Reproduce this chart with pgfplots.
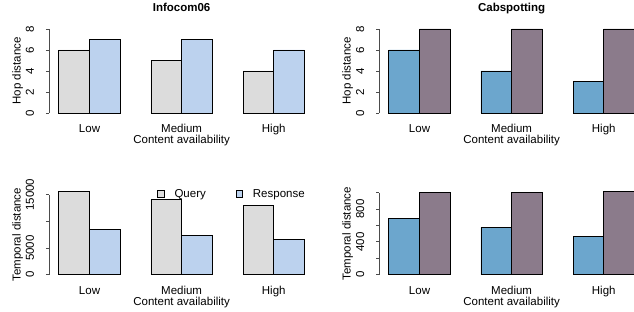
\documentclass[border=0pt]{standalone}
\usepackage{fontspec}
\setmainfont{Liberation Sans}
\usepackage{pgfplots}
\pgfplotsset{compat=1.18}
\definecolor{qcol}{HTML}{DCDCDC}
\definecolor{rcol}{HTML}{BCD2EE}
\definecolor{bcol}{HTML}{6CA6CD}
\definecolor{pcol}{HTML}{8B7B8B}
\newcommand{\fs}{\fontsize{11.5bp}{13.8bp}\selectfont}
\pgfplotsset{
  rpanel/.style={
    scale only axis,
    width=265.25bp,
    xmin=0.68, xmax=9.32,
    ymin=0,
    clip=false,
    axis lines*=left,
    x axis line style={draw=none},
    y axis line style={black!70, line width=0.8bp},
    xtick={2,5,8},
    xticklabels={Low,Medium,High},
    x tick style={draw=none},
    y tick style={black!70, line width=0.8bp},
    tick align=outside,
    major tick length=3bp,
    /pgf/number format/assume math mode=true,
    tick label style={font=\fs},
    yticklabel style={rotate=90, anchor=base},
    yticklabel shift=12bp,
    xticklabel style={anchor=base},
    xticklabel shift=16.5bp,
    xlabel={Content availability},
    xlabel style={font=\fs, at={(axis description cs:0.5,0)}, anchor=base, yshift=-31bp},
    ylabel style={font=\fs, at={(axis description cs:-0.1074,0.5)}, anchor=base},
    title style={font=\fs\bfseries, at={(axis description cs:0.5,1)}, anchor=base, yshift=11.7bp},
    every axis plot/.append style={ybar, bar width=1, draw=black, line width=0.8bp},
  }
}
\begin{document}
\begin{tikzpicture}
% top-left
\begin{axis}[rpanel, at={(49bp,199bp)}, anchor=south west, height=84bp, ymax=8,
  ytick={0,2,4,6,8}, ylabel={Hop distance}, title={Infocom06}]
\addplot[bar shift=-0.5, fill=qcol] coordinates {(2,6) (5,5) (8,4)};
\addplot[bar shift=0.5, fill=rcol] coordinates {(2,7) (5,7) (8,6)};
\end{axis}
% top-right
\begin{axis}[rpanel, at={(379bp,199bp)}, anchor=south west, height=84bp, ymax=8,
  ytick={0,2,4,6,8}, ylabel={Hop distance}, title={Cabspotting}]
\addplot[bar shift=-0.5, fill=bcol] coordinates {(2,6) (5,4) (8,3)};
\addplot[bar shift=0.5, fill=pcol] coordinates {(2,8) (5,8) (8,8)};
\end{axis}
% bottom-left
\begin{axis}[rpanel, at={(49bp,37.3bp)}, anchor=south west, height=80bp, ymax=15000,
  ytick={0,5000,10000,15000}, yticklabels={0,5000,,15000},
  scaled y ticks=false,
  ylabel={Temporal distance},
  legend columns=2,
  legend style={draw=none, fill=none, font=\fs, at={(rel axis cs:0.408,1.0)}, anchor=west,
    inner sep=0pt,
    /tikz/every odd column/.append style={column sep=8bp},
    /tikz/every even column/.append style={column sep=28bp}},
  legend image code/.code={\draw[#1, line width=0.6bp] (0bp,-2.5bp) rectangle (6.5bp,4bp);}]
\addplot[bar shift=-0.5, fill=qcol] coordinates {(2,15560) (5,14190) (8,12940)};
\addlegendentry{Query}
\addplot[bar shift=0.5, fill=rcol] coordinates {(2,8440) (5,7375) (8,6560)};
\addlegendentry{Response}
\end{axis}
% bottom-right
\begin{axis}[rpanel, at={(379bp,37.3bp)}, anchor=south west, height=82bp, ymax=1000,
  ytick={0,200,400,600,800,1000}, yticklabels={0,,400,,800,},
  ylabel={Temporal distance}]
\addplot[bar shift=-0.5, fill=bcol] coordinates {(2,690) (5,578) (8,463)};
\addplot[bar shift=0.5, fill=pcol] coordinates {(2,1000) (5,1005) (8,1015)};
\end{axis}
\pgfresetboundingbox
\path[use as bounding box] (0,0) rectangle (634bp,312bp);
\end{tikzpicture}
\end{document}
